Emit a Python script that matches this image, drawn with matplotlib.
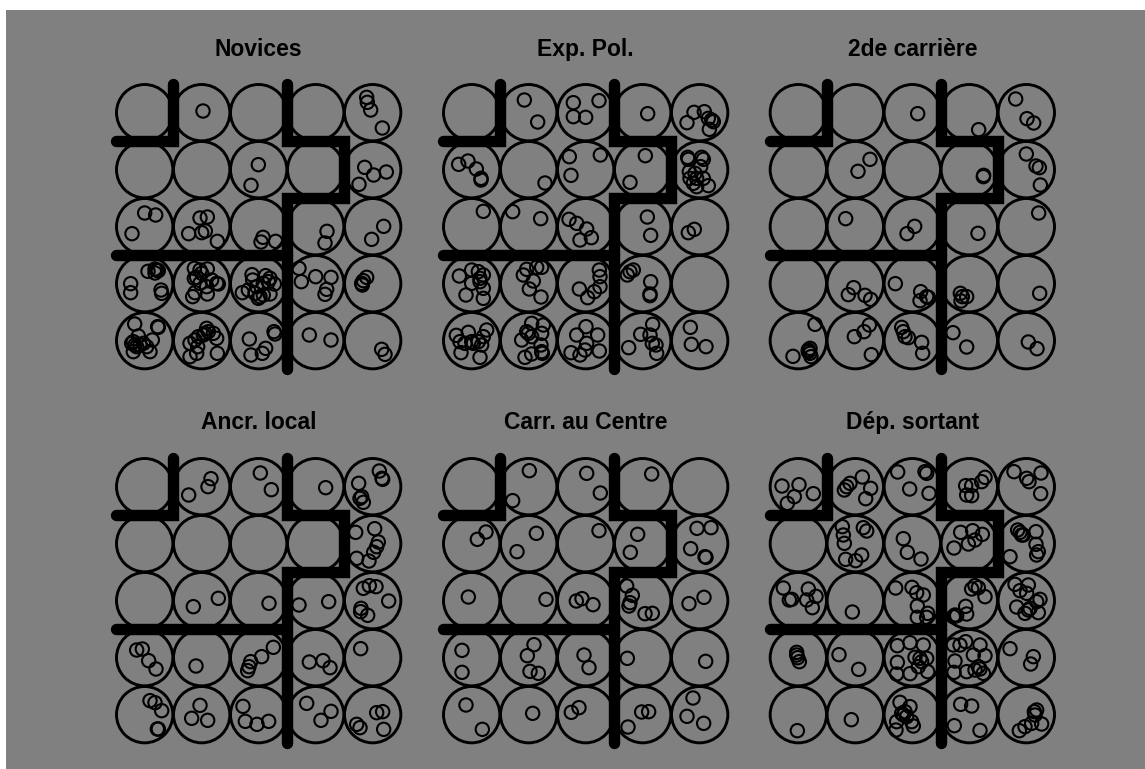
import matplotlib
matplotlib.use('Agg')
import matplotlib.pyplot as plt
from matplotlib.patches import Rectangle
import numpy as np

W, H = 1145, 769

titles = ['Novices', 'Exp. Pol.', '2de carrière', 'Ancr. local', 'Carr. au Centre', 'Dép. sortant']

# points, unité = 1/3 de pixel, origine = coin du cadre de chaque panneau
novices = [(309,123),(800,82),(802,97),(812,120),(847,174),(475,284),(453,346),(794,292),(821,315),(859,306),(777,343),
           (134,429),(167,435),(96,491),(300,444),(322,441),(266,491),(305,488),(316,483),(352,514),(489,502),(483,516),(527,514),
           (681,484),(675,519),(851,469),(815,508),(92,641),(92,668),(144,604),(165,597),(170,600),(175,602),(165,609),(183,660),(185,670),
           (283,595),(322,597),(300,600),(305,610),(290,622),(283,625),(335,630),(350,640),(355,642),(300,640),(320,650),(285,668),(278,680),(322,672),
           (456,614),(458,630),(497,617),(510,625),(523,642),(445,660),(427,668),(470,650),(490,640),(510,672),(465,670),(480,680),(475,685),(490,675),(505,635),
           (597,595),(604,635),(647,620),(693,622),(680,658),(675,673),(800,622),(790,632),(785,640),(787,645),
           (104,762),(175,772),(173,770),(157,810),(115,798),(100,815),(95,820),(110,830),(120,825),(130,820),(140,830),(100,845),(150,845),(105,825),
           (320,775),(340,790),(350,805),(310,795),(295,800),(285,810),(270,820),(293,830),(290,850),(270,860),(352,850),(325,785),(315,790),
           (522,785),(525,792),(448,807),(497,835),(487,850),(453,855),(628,795),(693,810),(845,838),(855,853)]

exp_pol = [(283,90),(323,156),(430,98),(507,92),(430,140),(467,142),(653,131),(792,127),(823,125),(771,158),(845,150),(850,155),(838,178),(835,145),
           (114,273),(86,283),(139,297),(153,325),(153,330),(345,339),(418,260),(511,255),(423,316),(646,257),(600,337),
           (773,262),(775,268),(815,262),(820,268),(812,290),(778,305),(795,310),(780,325),(800,325),(820,325),(800,350),(835,347),(790,340),
           (160,424),(248,425),(332,446),(417,448),(440,460),(470,477),(484,503),(450,510),(652,441),(662,496),(793,478),(775,488),
           (88,618),(125,600),(145,605),(160,615),(125,640),(150,635),(160,655),(108,675),(160,685),(150,625),
           (290,598),(280,615),(335,592),(320,592),(310,633),(298,657),(333,681),(508,600),(510,620),(448,657),(473,683),(493,665),(510,650),
           (610,600),(600,605),(592,615),(662,635),(660,672),(660,677),
           (79,796),(115,787),(170,780),(160,800),(90,815),(105,820),(125,815),(145,815),(155,825),(130,820),(93,848),(150,862),
           (305,760),(340,765),(335,790),(290,785),(295,790),(305,800),(275,810),(333,825),(337,850),(335,845),(285,862),(305,852),
           (468,770),(440,795),(503,795),(470,820),(508,843),(423,848),(450,855),(465,840),
           (668,763),(632,793),(660,795),(667,820),(678,825),(680,850),(596,833),(781,772),(784,823),(828,830)]

carriere_2 = [(488,131),(671,179),(782,87),(816,146),(836,159),(345,268),(309,304),(686,316),(685,320),(814,252),(843,288),(853,293),(856,345),
              (272,446),(479,469),(456,491),(669,490),(851,429),(296,653),(280,674),(330,676),(347,688),
              (421,641),(497,665),(495,692),(515,680),(520,682),(616,670),(635,680),(618,693),(622,680),(854,670),
              (180,763),(114,859),(165,835),(160,840),(165,850),(168,860),(160,845),(343,765),(327,785),(298,800),(349,854),
              (440,772),(445,785),(450,800),(460,803),(500,817),(503,850),(594,788),(635,831),(820,816),(846,836)]

ancr_local = [(333,101),(324,125),(266,150),(481,84),(514,134),(677,128),(838,78),(848,103),(846,100),(776,115),(785,155),(780,160),(790,172),
              (767,262),(824,251),(835,291),(830,305),(821,322),(807,348),(770,340),(355,460),(280,485),(507,475),(597,480),(686,470),
              (790,430),(808,422),(828,425),(866,468),(783,490),(782,500),(803,511),(110,615),(127,612),(146,647),(168,672),(288,663),
              (520,607),(485,635),(452,650),(447,665),(443,677),(628,651),(669,647),(690,668),(782,611),
              (150,767),(165,773),(185,797),(175,852),(172,852),(300,781),(275,820),(323,826),(429,784),(436,829),(471,838),(506,829),
              (620,775),(693,799),(663,826),(830,803),(848,800),(770,838),(780,848),(851,853)]

carr_centre = [(298,77),(248,167),(470,85),(511,144),(665,87),(168,261),(142,283),(319,265),(261,320),(507,257),(623,268),(601,322),
               (801,250),(843,248),(782,311),(825,335),(828,337),(115,456),(348,463),(439,468),(456,461),(489,479),
               (590,423),(607,451),(600,473),(597,483),(645,506),(667,505),(822,457),(777,476),(96,616),(96,682),
               (312,599),(292,632),(300,679),(325,685),(462,630),(477,668),(592,640),(827,649),(108,780),(157,853),(308,805),
               (447,788),(424,802),(635,801),(656,800),(594,846),(789,759),(771,814),(821,835)]

dep_sortant = [(81,123),(132,119),(175,146),(118,155),(97,175),(322,96),(285,115),(275,125),(268,135),(347,130),(332,161),
               (428,81),(510,80),(515,85),(464,132),(522,145),(690,97),(680,110),(632,122),(650,122),(635,150),(650,152),
               (777,80),(858,84),(815,100),(822,110),(857,146),(262,245),(325,248),(335,258),(265,270),(268,295),(320,330),(272,343),(302,347),
               (445,281),(457,322),(498,342),(617,262),(653,257),(682,268),(660,285),(640,297),(597,309),
               (788,255),(795,262),(805,270),(843,260),(800,270),(843,298),(850,320),(845,330),(765,335),
               (85,429),(160,432),(183,454),(155,465),(103,465),(110,463),(172,488),(292,501),
               (422,429),(471,427),(485,443),(505,450),(487,483),(487,517),(518,505),(515,517),
               (660,422),(670,428),(650,432),(690,455),(632,484),(635,507),(600,510),(605,512),(595,515),
               (780,418),(820,420),(795,437),(815,445),(855,463),(845,470),(785,486),(825,490),(810,505),(850,503),(820,495),
               (125,622),(125,630),(128,638),(133,650),(252,629),(311,673),
               (427,602),(465,593),(505,600),(427,652),(480,637),(495,640),(500,650),(515,640),(490,665),(465,686),(425,687),(518,680),
               (595,600),(615,600),(632,590),(675,600),(655,630),(690,632),(600,648),(597,682),(635,680),(660,675),(670,665),(675,672),(685,685),
               (765,611),(835,635),(827,657),(127,857),(289,824),
               (435,772),(465,785),(440,805),(445,810),(450,800),(455,815),(470,830),(425,830),(475,843),(423,855),
               (617,778),(650,783),(598,842),(675,856),(845,795),(838,800),(840,810),(860,837),(830,835),(810,845),(793,857)]

panels = [novices, exp_pol, carriere_2, ancr_local, carr_centre, dep_sortant]

# murs en unités de cases, centre de la première case = (0, 0)
wall_a = [(0.5, -0.5), (0.5, 0.5), (-0.5, 0.5)]
wall_b = [(2.5, -0.5), (2.5, 0.5), (3.5, 0.5), (3.5, 1.5), (2.5, 1.5), (2.5, 4.5)]
wall_c = [(-0.5, 2.5), (2.5, 2.5)]

STEP = 171
left = [100, 430, 755, 100, 430, 755]
top = [70, 70, 70, 445, 445, 445]
cx0 = [134, 125, 130, 134, 125, 130]
cy0 = [128, 128, 128, 125, 125, 125]
title_base = [56, 56, 56, 429, 429, 429]


def draw_panel(fig, i):
    ax = fig.add_axes([left[i] / W, 1 - (top[i] + 310) / H, 320 / W, 310 / H])
    ax.set_xlim(0, 960)
    ax.set_ylim(930, 0)
    ax.axis('off')
    # cases
    gx, gy = np.meshgrid(cx0[i] + STEP * np.arange(5), cy0[i] + STEP * np.arange(5))
    ax.scatter(gx.ravel(), gy.ravel(), s=(2 * 84.5 / 3 * 0.72) ** 2, facecolors='none', edgecolors='k',
               linewidths=2.1, clip_on=False, zorder=1)
    pts = np.array(panels[i])
    ax.scatter(pts[:, 0], pts[:, 1], s=(2 * 20 / 3 * 0.72) ** 2, facecolors='none', edgecolors='k',
               linewidths=1.5, clip_on=False, zorder=2)
    for wall in [wall_a, wall_b, wall_c]:
        w = np.array(wall)
        ax.plot(cx0[i] + STEP * w[:, 0], cy0[i] + STEP * w[:, 1], color='k', lw=8.2,
                solid_capstyle='round', solid_joinstyle='miter', clip_on=False, zorder=3)
    tx = left[i] + (cx0[i] + 2 * STEP) / 3
    fig.text(tx / W, 1 - title_base[i] / H, titles[i], ha='center', va='baseline',
             fontsize=16.5, fontweight='bold', family='Liberation Sans')


fig = plt.figure(figsize=(W / 100, H / 100), dpi=100, facecolor='white')
fig.patches.append(Rectangle((6 / W, 0), 1 - 6 / W, 1 - 10 / H, transform=fig.transFigure,
                             facecolor='#808080', edgecolor='none', figure=fig, zorder=-1))
for i in range(6):
    draw_panel(fig, i)
fig.savefig('out.png', dpi=100, facecolor='white')
